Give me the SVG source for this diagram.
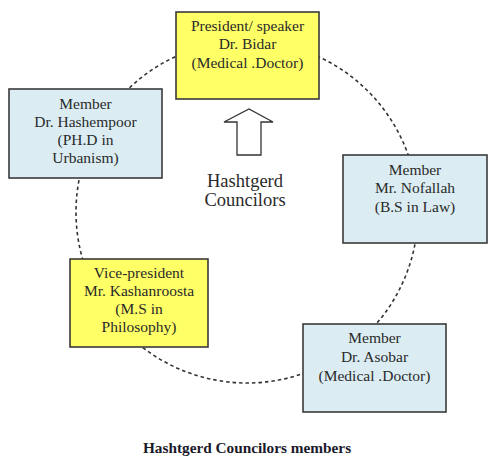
<svg xmlns="http://www.w3.org/2000/svg" width="491" height="462" viewBox="0 0 491 462">
<style>
.bx{stroke:#3a3a3a;stroke-width:1.6}
.y{fill:#ffff66}
.b{fill:#dbedf3}
.t{font-family:"Liberation Serif","Times New Roman",serif;font-size:15.5px;fill:#2a2a2a;text-anchor:middle}
.c{font-size:18.5px}
.cap{font-family:"Liberation Serif","Times New Roman",serif;font-size:15.3px;font-weight:bold;fill:#1a1a2a;text-anchor:middle}
</style>
<rect width="491" height="462" fill="#ffffff"/>
<g id="connectors">
<circle cx="247" cy="212" r="171" fill="none" stroke="#333" stroke-width="1.6" stroke-dasharray="3.5 3"/>
<path d="M237 155 V122 H224 L249 109 L273 122 H261 V155 Z" fill="#ffffff" stroke="#333" stroke-width="1.3"/>
</g>
<g id="president">
<rect class="bx y" x="176" y="12" width="143" height="87"/>
<text class="t" x="247.5" y="31">President/ speaker</text>
<text class="t" x="247.5" y="49">Dr. Bidar</text>
<text class="t" x="247.5" y="68">(Medical .Doctor)</text>
</g>
<g id="hashempoor">
<rect class="bx b" x="9" y="89" width="153" height="89"/>
<text class="t" x="85.5" y="109">Member</text>
<text class="t" x="85.5" y="127">Dr. Hashempoor</text>
<text class="t" x="85.5" y="145">(PH.D in</text>
<text class="t" x="85.5" y="163">Urbanism)</text>
</g>
<g id="nofallah">
<rect class="bx b" x="343" y="155" width="144" height="88"/>
<text class="t" x="415" y="175">Member</text>
<text class="t" x="415" y="193">Mr. Nofallah</text>
<text class="t" x="415" y="212">(B.S in Law)</text>
</g>
<g id="kashanroosta">
<rect class="bx y" x="70" y="259" width="138" height="88"/>
<text class="t" x="139" y="278">Vice-president</text>
<text class="t" x="139" y="296">Mr. Kashanroosta</text>
<text class="t" x="139" y="314">(M.S in</text>
<text class="t" x="139" y="332">Philosophy)</text>
</g>
<g id="asobar">
<rect class="bx b" x="303" y="324" width="143" height="88"/>
<text class="t" x="374.5" y="343">Member</text>
<text class="t" x="374.5" y="362">Dr. Asobar</text>
<text class="t" x="374.5" y="381">(Medical .Doctor)</text>
</g>
<g id="center-label">
<text class="t c" x="245" y="187">Hashtgerd</text>
<text class="t c" x="245" y="206">Councilors</text>
</g>
<text class="cap" x="247" y="453">Hashtgerd Councilors members</text>
</svg>
